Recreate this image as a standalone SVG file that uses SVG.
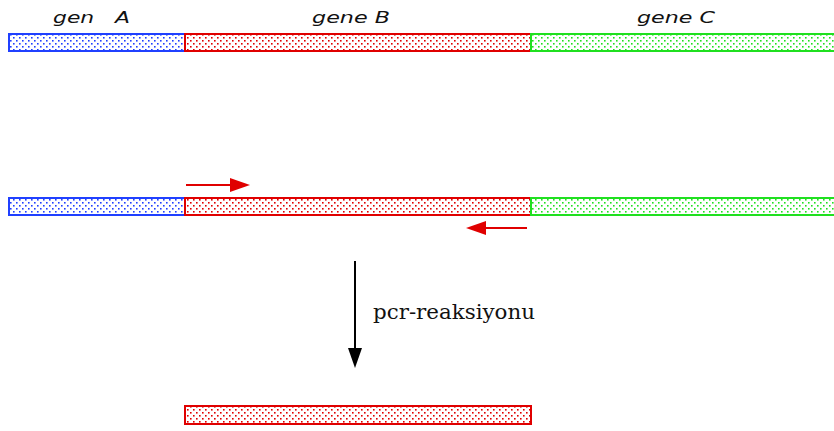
<svg xmlns="http://www.w3.org/2000/svg" width="834" height="431" viewBox="0 0 834 431">
<defs>
<pattern id="dB" width="6" height="6" patternUnits="userSpaceOnUse"><rect x="1" y="1" width="1.6" height="1.6" fill="#2040ff"/><rect x="4" y="4" width="1.6" height="1.6" fill="#2040ff"/></pattern>
<pattern id="dR" width="6" height="6" patternUnits="userSpaceOnUse"><rect x="1" y="1" width="1.6" height="1.6" fill="#e00000"/><rect x="4" y="4" width="1.6" height="1.6" fill="#e00000"/></pattern>
<pattern id="dG" width="6" height="6" patternUnits="userSpaceOnUse"><rect x="1" y="1" width="1.6" height="1.6" fill="#20e020"/><rect x="4" y="4" width="1.6" height="1.6" fill="#20e020"/></pattern>
</defs>
<style>
.lbl{font-family:"DejaVu Sans","Liberation Sans",sans-serif;font-style:italic;font-size:15px;fill:#111}
.blue{fill:url(#dB);stroke:#2040ff;stroke-width:2}
.red{fill:url(#dR);stroke:#e00000;stroke-width:2}
.green{fill:url(#dG);stroke:#20e020;stroke-width:2}
</style>
<g id="row1">
<rect class="blue" x="9" y="34" width="176" height="17"/>
<rect class="red" x="185" y="34" width="346" height="17"/>
<rect class="green" x="531" y="34" width="305" height="17"/>
<text class="lbl" x="53" y="23" xml:space="preserve" textLength="77" lengthAdjust="spacingAndGlyphs">gen   A</text>
<text class="lbl" x="312" y="23" textLength="78" lengthAdjust="spacingAndGlyphs">gene B</text>
<text class="lbl" x="637" y="23" textLength="78" lengthAdjust="spacingAndGlyphs">gene C</text>
</g>
<g id="row2">
<rect class="blue" x="9" y="198" width="176" height="17"/>
<rect class="red" x="185" y="198" width="346" height="17"/>
<rect class="green" x="531" y="198" width="305" height="17"/>
</g>
<g id="product">
<rect class="red" x="185" y="406" width="346" height="18"/>
</g>
<g id="connectors">
<line x1="186" y1="185" x2="232" y2="185" stroke="#e00000" stroke-width="2"/>
<path d="M230,178 L250,185 L230,192 z" fill="#e00000"/>
<line x1="527" y1="228" x2="484" y2="228" stroke="#e00000" stroke-width="2"/>
<path d="M486,221 L466,228 L486,235 z" fill="#e00000"/>
<line x1="355" y1="261" x2="355" y2="352" stroke="#000" stroke-width="2"/>
<path d="M348,348 L355,368 L362,348 z" fill="#000"/>
<text x="373" y="319" font-family="'DejaVu Serif','Liberation Serif',serif" font-size="20" fill="#111" textLength="162" lengthAdjust="spacingAndGlyphs">pcr-reaksiyonu</text>
</g>
</svg>
